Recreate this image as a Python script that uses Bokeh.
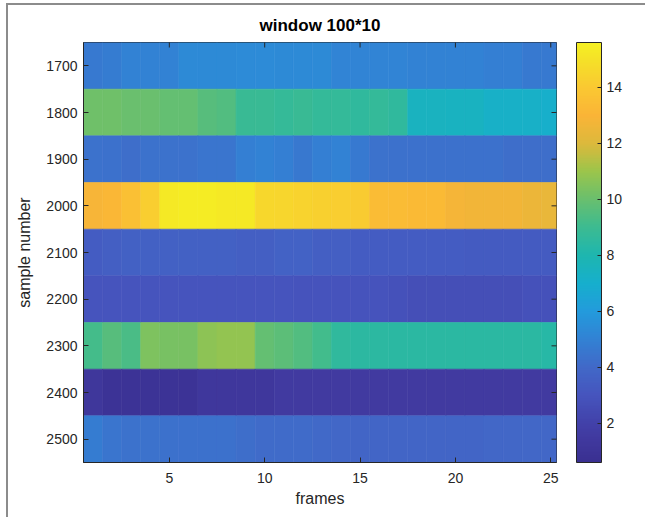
import numpy as np
from bokeh.plotting import figure
from bokeh.models import (LinearColorMapper, ColorBar, FixedTicker,
                          Range1d, Label, ColumnDataSource)
from bokeh.transform import transform
from bokeh.embed import file_html
from bokeh.resources import INLINE

# ---------------- data (values in units of 1e11) ----------------
frames = list(range(1, 26))
samples = [1700, 1800, 1900, 2000, 2100, 2200, 2300, 2400, 2500]

row_1700 = [4.7, 4.8, 5.0, 5.0, 5.0, 5.3, 5.3, 5.3, 5.4, 5.4, 5.3, 5.3, 5.3,
            5.1, 5.1, 5.1, 5.1, 5.0, 5.0, 5.0, 5.0, 4.9, 4.9, 4.7, 4.7]
row_1800 = [10.1, 10.1, 10.0, 10.0, 9.9, 9.9, 9.6, 9.5, 8.9, 8.9, 8.8, 8.9, 8.7,
            8.7, 8.6, 8.7, 8.6, 7.5, 7.5, 7.4, 7.4, 7.2, 7.2, 7.2, 7.1]
row_1900 = [4.4, 4.3, 4.2, 4.4, 4.4, 4.4, 4.5, 4.5, 4.9, 5.0, 4.9, 4.6, 4.9,
            5.0, 4.7, 4.4, 4.3, 4.3, 4.3, 4.3, 4.3, 4.3, 4.2, 4.2, 4.2]
row_2000 = [12.9, 13.1, 13.6, 14.2, 15.3, 15.4, 15.4, 15.3, 15.3, 14.6, 14.5, 14.4, 14.3,
            14.2, 14.1, 13.4, 13.4, 13.3, 13.3, 12.8, 12.7, 12.7, 12.7, 12.5, 12.4]
row_2100 = [3.4, 3.5, 3.6, 3.6, 3.6, 3.6, 3.6, 3.6, 3.5, 3.5, 3.7, 3.7, 3.5,
            3.5, 3.4, 3.4, 3.4, 3.4, 3.4, 3.4, 3.3, 3.3, 3.3, 3.3, 3.3]
row_2200 = [3.0, 3.0, 3.0, 3.0, 3.0, 3.0, 3.0, 3.0, 3.0, 3.0, 3.0, 2.9, 2.9,
            2.9, 2.9, 2.9, 2.8, 2.7, 2.7, 2.7, 2.7, 2.7, 2.7, 2.8, 2.8]
row_2300 = [9.2, 9.6, 9.3, 10.4, 10.3, 10.3, 10.7, 10.8, 10.8, 9.9, 9.7, 9.5, 9.1,
            8.6, 8.5, 8.5, 8.4, 8.4, 8.4, 8.4, 8.4, 8.4, 8.4, 8.4, 8.3]
row_2400 = [1.2, 0.9, 0.9, 0.9, 0.9, 0.9, 1.3, 1.3, 1.3, 1.3, 1.5, 1.5, 1.5,
            1.5, 1.5, 1.5, 1.5, 1.5, 1.5, 1.5, 1.5, 1.5, 1.5, 1.5, 1.5]
row_2500 = [4.8, 4.5, 4.4, 4.4, 4.3, 4.3, 4.3, 4.3, 4.2, 4.1, 4.1, 4.1, 4.0,
            3.9, 3.8, 3.8, 3.8, 3.8, 3.8, 3.8, 3.8, 3.9, 3.9, 3.9, 3.9]

rows = [row_1700, row_1800, row_1900, row_2000, row_2100,
        row_2200, row_2300, row_2400, row_2500]

x_ticks = [5, 10, 15, 20, 25]
y_ticks = samples
cbar_ticks = [2, 4, 6, 8, 10, 12, 14]
c_low, c_high = 0.6, 15.6
x_lo, x_hi = 0.5, 25.3
y_top, y_bot = 1650, 2550

# ---------------- palette (parula as it appears in the reference) ----------------
anchor_vals = [0.6, 1.5, 2.0, 3.0, 4.0, 5.0, 6.0, 7.0, 8.0, 9.0, 10.0,
               11.0, 12.0, 13.0, 14.0, 15.0, 15.6]
anchor_rgb = [(58, 48, 145), (65, 58, 160), (66, 66, 170), (70, 85, 190),
              (65, 105, 200), (50, 130, 212), (35, 155, 220), (22, 175, 205),
              (30, 182, 175), (60, 187, 145), (105, 191, 110), (155, 197, 75),
              (220, 185, 60), (250, 180, 55), (250, 200, 50), (245, 225, 40),
              (245, 240, 35)]
_a = np.array(anchor_rgb, dtype=float)
palette = []
for v in np.linspace(c_low, c_high, 256):
    r, g, b = (np.interp(v, anchor_vals, _a[:, k]) for k in range(3))
    palette.append("#%02x%02x%02x" % (int(round(r)), int(round(g)), int(round(b))))

mapper = LinearColorMapper(palette=palette, low=c_low, high=c_high)

# ---------------- source ----------------
xs, ys, vs = [], [], []
for s, row in zip(samples, rows):
    for f, v in zip(frames, row):
        xs.append(f)
        ys.append(s)
        vs.append(v)
src = ColumnDataSource(dict(x=xs, y=ys, v=vs))

FONT = "Liberation Sans"
TXT = "#262626"

p = figure(frame_width=473, frame_height=420,
           x_range=Range1d(x_lo, x_hi), y_range=Range1d(y_bot, y_top),
           output_backend="svg", toolbar_location=None,
           title="window 100*10",
           min_border_left=75, min_border_top=36, min_border_right=89, min_border_bottom=56,
           background_fill_color="white", border_fill_color="white")
p.styles = {"margin-left": "6px", "margin-top": "3px",
            "border-left": "2px solid #8c8c8c", "border-top": "2px solid #8c8c8c"}

p.rect(x="x", y="y", width=1, height=100, source=src,
       fill_color=transform("v", mapper), line_color=transform("v", mapper), line_width=0.6)

# mirrored tick marks on top and right edges (MATLAB box style)
p.scatter(x=x_ticks, y=[y_top] * len(x_ticks), marker="dash", size=10, angle=np.pi / 2,
          line_color=TXT, line_width=1)
p.scatter(x=[x_hi] * len(y_ticks), y=y_ticks, marker="dash", size=10,
          line_color=TXT, line_width=1)

p.grid.visible = False
p.outline_line_color = TXT
p.outline_line_width = 1

p.title.text_font = FONT
p.title.text_font_size = "17px"
p.title.text_font_style = "bold"
p.title.text_color = "black"
p.title.align = "center"
p.title.standoff = 16

for ax in (p.xaxis[0], p.yaxis[0]):
    ax.major_tick_in = 5
    ax.major_tick_out = 0
    ax.minor_tick_line_color = None
    ax.axis_line_color = TXT
    ax.major_tick_line_color = TXT
    ax.major_label_text_font = FONT
    ax.major_label_text_font_size = "14px"
    ax.major_label_text_color = TXT
    ax.axis_label_text_font = FONT
    ax.axis_label_text_font_size = "16px"
    ax.axis_label_text_font_style = "normal"
    ax.axis_label_text_color = TXT

p.xaxis[0].ticker = FixedTicker(ticks=x_ticks)
p.yaxis[0].ticker = FixedTicker(ticks=y_ticks)
p.xaxis[0].axis_label = "frames"
p.yaxis[0].axis_label = "sample number"
p.xaxis[0].major_label_standoff = 10
p.yaxis[0].major_label_standoff = 6
p.xaxis[0].axis_label_standoff = 4
p.yaxis[0].axis_label_standoff = 10

cb = ColorBar(color_mapper=mapper, ticker=FixedTicker(ticks=cbar_ticks),
              width=25, padding=0, margin=0, location=(20, 0),
              major_tick_in=4, major_tick_out=0, major_tick_line_color=TXT,
              minor_tick_line_color=None, bar_line_color=TXT,
              border_line_color=None, background_fill_color=None,
              label_standoff=5, major_label_text_font=FONT,
              major_label_text_font_size="14px", major_label_text_color=TXT)
p.add_layout(cb, "right")

lab = Label(x=x_hi, y=y_top, x_offset=47, y_offset=12, text="×10",
            text_font=FONT, text_font_size="13px", text_color=TXT,
            text_baseline="bottom")
sup = Label(x=x_hi, y=y_top, x_offset=70, y_offset=19, text="11",
            text_font=FONT, text_font_size="10px", text_color=TXT,
            text_baseline="bottom")
p.add_layout(lab)
p.add_layout(sup)

open("out.html", "w").write(file_html(p, INLINE))
